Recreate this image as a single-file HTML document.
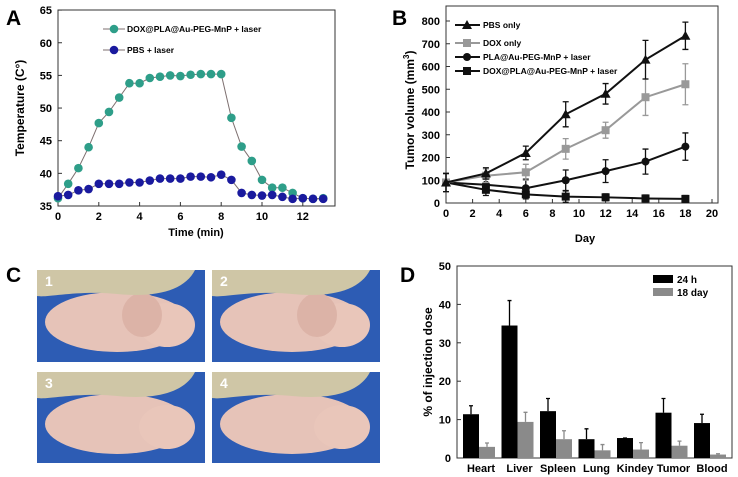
<!DOCTYPE html>
<html><head><meta charset="utf-8"><style>
body{margin:0;background:#fff;}
svg{display:block;font-family:"Liberation Sans",Arial,sans-serif;font-weight:bold;}
</style></head><body>
<svg id="fig" width="738" height="477" viewBox="0 0 738 477" xmlns="http://www.w3.org/2000/svg">
<text x="6" y="25" font-size="21">A</text>
<text x="392" y="25" font-size="21">B</text>
<text x="6" y="282" font-size="21">C</text>
<text x="400" y="282" font-size="21">D</text>
<g id="pa"></g>
<g id="pb"></g>
<g id="pc"></g>
<g id="pd"></g>
</svg>
<script>
// Panel A data
const timeA=[0,0.5,1,1.5,2,2.5,3,3.5,4,4.5,5,5.5,6,6.5,7,7.5,8,8.5,9,9.5,10,10.5,11,11.5,12,12.5,13];
const tempDox=[36.2,38.4,40.8,44,47.7,49.4,51.6,53.8,53.8,54.6,54.8,55,54.9,55.1,55.2,55.2,55.2,48.5,44.1,41.9,39,37.8,37.8,37,36.2,36.1,36.2];
const tempPbs=[36.5,36.7,37.4,37.6,38.4,38.4,38.4,38.6,38.6,38.9,39.2,39.2,39.2,39.5,39.5,39.4,39.8,39,37,36.7,36.6,36.7,36.4,36.1,36.2,36.1,36.1];
const ticksAx=[0,2,4,6,8,10,12];
const ticksAy=[35,40,45,50,55,60,65];
// Panel B data
const daysB=[0,3,6,9,12,15,18];
const volPbs=[90,130,220,390,480,630,735];
const errPbs=[40,25,30,55,45,85,60];
const volDox=[90,120,135,238,320,465,522];
const errDox=[40,30,35,45,35,80,90];
const volPla=[90,80,65,100,140,182,248];
const errPla=[40,30,40,45,50,55,60];
const volDoxPla=[90,58,38,28,25,20,18];
const errDoxPla=[40,25,20,25,15,15,15];
const ticksBx=[0,2,4,6,8,10,12,14,16,18,20];
const ticksBy=[0,100,200,300,400,500,600,700,800];
// Panel D data
const organs=["Heart","Liver","Spleen","Lung","Kindey","Tumor","Blood"];
const dose24=[11.4,34.5,12.2,4.9,5.2,11.8,9.1];
const err24=[2.2,6.5,3.3,2.7,0,3.7,2.3];
const dose18=[2.9,9.4,4.9,2.0,2.2,3.2,0.9];
const err18=[1,2.5,2.2,1.5,1.8,1.2,0.2];
const ticksDy=[0,10,20,30,40,50];

const NS="http://www.w3.org/2000/svg";
function mk(p,t,a){const e=document.createElementNS(NS,t);for(const k in a)e.setAttribute(k,a[k]);p.appendChild(e);return e;}
function tx(p,x,y,s,sz,anc,extra){const e=mk(p,"text",Object.assign({x:x,y:y,"font-size":sz,"text-anchor":anc||"middle"},extra||{}));e.textContent=s;return e;}

// ---- Panel A
const A=document.getElementById("pa");
const ax=v=>58+v*20.4, ay=v=>206-(v-35)*6.53;
let f=mk(A,"rect",{x:58,y:10,width:277,height:196,fill:"none",stroke:"#333","stroke-width":1});


ticksAx.forEach(v=>{mk(A,"line",{x1:ax(v),x2:ax(v),y1:206,y2:202,stroke:"#333"});const t=tx(A,ax(v),220,v,11);

});
ticksAy.forEach(v=>{mk(A,"line",{x1:58,x2:62,y1:ay(v),y2:ay(v),stroke:"#333"});const t=tx(A,52,ay(v)+4,v,11,"end");

});
let tl=tx(A,196,236,"Time (min)",11);


tl=tx(A,0,0,"Temperature  (C°)",12,"middle",{transform:"translate(24,108) rotate(-90)"});


function seriesA(vals,col,name){
  const pts=timeA.map((t,i)=>ax(t)+","+ay(vals[i])).join(" ");
  const l=mk(A,"polyline",{points:pts,fill:"none",stroke:"#7d6f6f","stroke-width":1});
  
  
  timeA.forEach((t,i)=>{const c=mk(A,"circle",{cx:ax(t),cy:ay(vals[i]),r:4.3,fill:col});
  
  });
}
seriesA(tempDox,"#2e9e89","dox-laser");
seriesA(tempPbs,"#1a1a9e","pbs-laser");
[[29,"#2e9e89","DOX@PLA@Au-PEG-MnP + laser"],[50,"#1a1a9e","PBS + laser"]].forEach(l=>{
  const g=mk(A,"g",{});
  
  
  mk(g,"line",{x1:103,x2:125,y1:l[0],y2:l[0],stroke:"#7d6f6f"});
  mk(g,"circle",{cx:114,cy:l[0],r:4.3,fill:l[1]});
  tx(g,127,l[0]+3,l[2],8.5,"start");
});

// ---- Panel B
const B=document.getElementById("pb");
const bx=v=>446+v*13.3, by=v=>203-v*0.2275;
f=mk(B,"rect",{x:446,y:6,width:272,height:197,fill:"none",stroke:"#333"});


ticksBx.forEach(v=>{mk(B,"line",{x1:bx(v),x2:bx(v),y1:203,y2:199,stroke:"#333"});const t=tx(B,bx(v),217,v,11);

});
ticksBy.forEach(v=>{mk(B,"line",{x1:446,x2:450,y1:by(v),y2:by(v),stroke:"#333"});const t=tx(B,440,by(v)+4,v,11,"end");

});
tl=tx(B,585,242,"Day",11);


tl=mk(B,"text",{"font-size":12,"text-anchor":"middle",transform:"translate(414,110) rotate(-90)"});
tl.innerHTML='Tumor volume (mm<tspan font-size="8" dy="-5">3</tspan><tspan dy="5">)</tspan>';


function marker(p,type,x,y,col){
  if(type==="tri")return mk(p,"polygon",{points:`${x},${y-5} ${x-5},${y+4} ${x+5},${y+4}`,fill:col});
  if(type==="sq")return mk(p,"rect",{x:x-4,y:y-4,width:8,height:8,fill:col});
  return mk(p,"circle",{cx:x,cy:y,r:4,fill:col});
}
function seriesB(vals,errs,col,type,name){
  daysB.forEach((d,i)=>{
    const e=mk(B,"path",{d:`M${bx(d)},${by(vals[i]-errs[i])}V${by(vals[i]+errs[i])}M${bx(d)-3},${by(vals[i]+errs[i])}h6M${bx(d)-3},${by(vals[i]-errs[i])}h6`,stroke:col,"stroke-width":1.3,fill:"none"});
    
    
  });
  const l=mk(B,"polyline",{points:daysB.map((d,i)=>bx(d)+","+by(vals[i])).join(" "),fill:"none",stroke:col,"stroke-width":2});
  
  
  daysB.forEach((d,i)=>{const m=marker(B,type,bx(d),by(vals[i]),col);
  
  });
}
seriesB(volDoxPla,errDoxPla,"#111","sq","dox-pla-laser");
seriesB(volPla,errPla,"#111","circ","pla-laser");
seriesB(volDox,errDox,"#999","sq","dox-only");
seriesB(volPbs,errPbs,"#111","tri","pbs-only");
[[25,"#111","tri","PBS only"],[43,"#999","sq","DOX only"],[57,"#111","circ","PLA@Au-PEG-MnP + laser"],[71,"#111","sq","DOX@PLA@Au-PEG-MnP + laser"]].forEach(l=>{
  const g=mk(B,"g",{});
  
  
  mk(g,"line",{x1:455,x2:480,y1:l[0],y2:l[0],stroke:l[1],"stroke-width":2});
  marker(g,l[2],467,l[0],l[1]);
  tx(g,483,l[0]+3,l[3],8.5,"start");
});

// ---- Panel C photos
const C=document.getElementById("pc");
const photos=[[37,270,168,92,"1"],[212,270,168,92,"2"],[37,372,168,91,"3"],[212,372,168,91,"4"]];
photos.forEach((p,i)=>{
  const g=mk(C,"g",{transform:`translate(${p[0]},${p[1]})`});
  
  
  mk(g,"rect",{x:0,y:0,width:p[2],height:p[3],fill:"#2d5cb4"});
  mk(g,"ellipse",{cx:80,cy:52,rx:72,ry:30,fill:"#e6c3b8"});
  mk(g,"ellipse",{cx:130,cy:55,rx:28,ry:22,fill:"#e9c6ba"});
  if(i<2) mk(g,"ellipse",{cx:105,cy:45,rx:20,ry:22,fill:"#dcb3a7"});
  mk(g,"path",{d:`M0,0H${p[2]-10}C${p[2]-20},20 120,28 80,24C40,20 10,28 0,26Z`,fill:"#cfc6a6"});
  tx(g,8,16,p[4],14,"start",{fill:"#fff"});
});

// ---- Panel D
const D=document.getElementById("pd");
const dy=v=>458-v*3.84, dcx=i=>479+i*38.5;
f=mk(D,"rect",{x:457,y:266,width:275,height:192,fill:"none",stroke:"#333"});


ticksDy.forEach(v=>{mk(D,"line",{x1:457,x2:461,y1:dy(v),y2:dy(v),stroke:"#333"});const t=tx(D,451,dy(v)+4,v,11,"end");

});
tl=tx(D,0,0,"% of injection dose",12,"middle",{transform:"translate(432,362) rotate(-90)"});


organs.forEach((o,i)=>{
  const c=dcx(i);
  const b1=mk(D,"rect",{x:c-16,y:dy(dose24[i]),width:16,height:dose24[i]*3.84,fill:"#000"});
  
  
  const e1=mk(D,"path",{d:`M${c-8},${dy(dose24[i])}V${dy(dose24[i]+err24[i])}M${c-10},${dy(dose24[i]+err24[i])}h4`,stroke:"#000","stroke-width":1.3});
  
  
  const b2=mk(D,"rect",{x:c,y:dy(dose18[i]),width:16,height:dose18[i]*3.84,fill:"#8a8a8a"});
  
  
  const e2=mk(D,"path",{d:`M${c+8},${dy(dose18[i])}V${dy(dose18[i]+err18[i])}M${c+6},${dy(dose18[i]+err18[i])}h4`,stroke:"#8a8a8a","stroke-width":1.3});
  
  
  const t=tx(D,c+2,472,o,11);
  
  
});
[[275,"#000","24 h"],[288,"#8a8a8a","18 day"]].forEach(l=>{
  const g=mk(D,"g",{});
  
  
  mk(g,"rect",{x:653,y:l[0],width:20,height:8,fill:l[1]});
  tx(g,677,l[0]+8,l[2],10,"start");
});
</script>
</body></html>
